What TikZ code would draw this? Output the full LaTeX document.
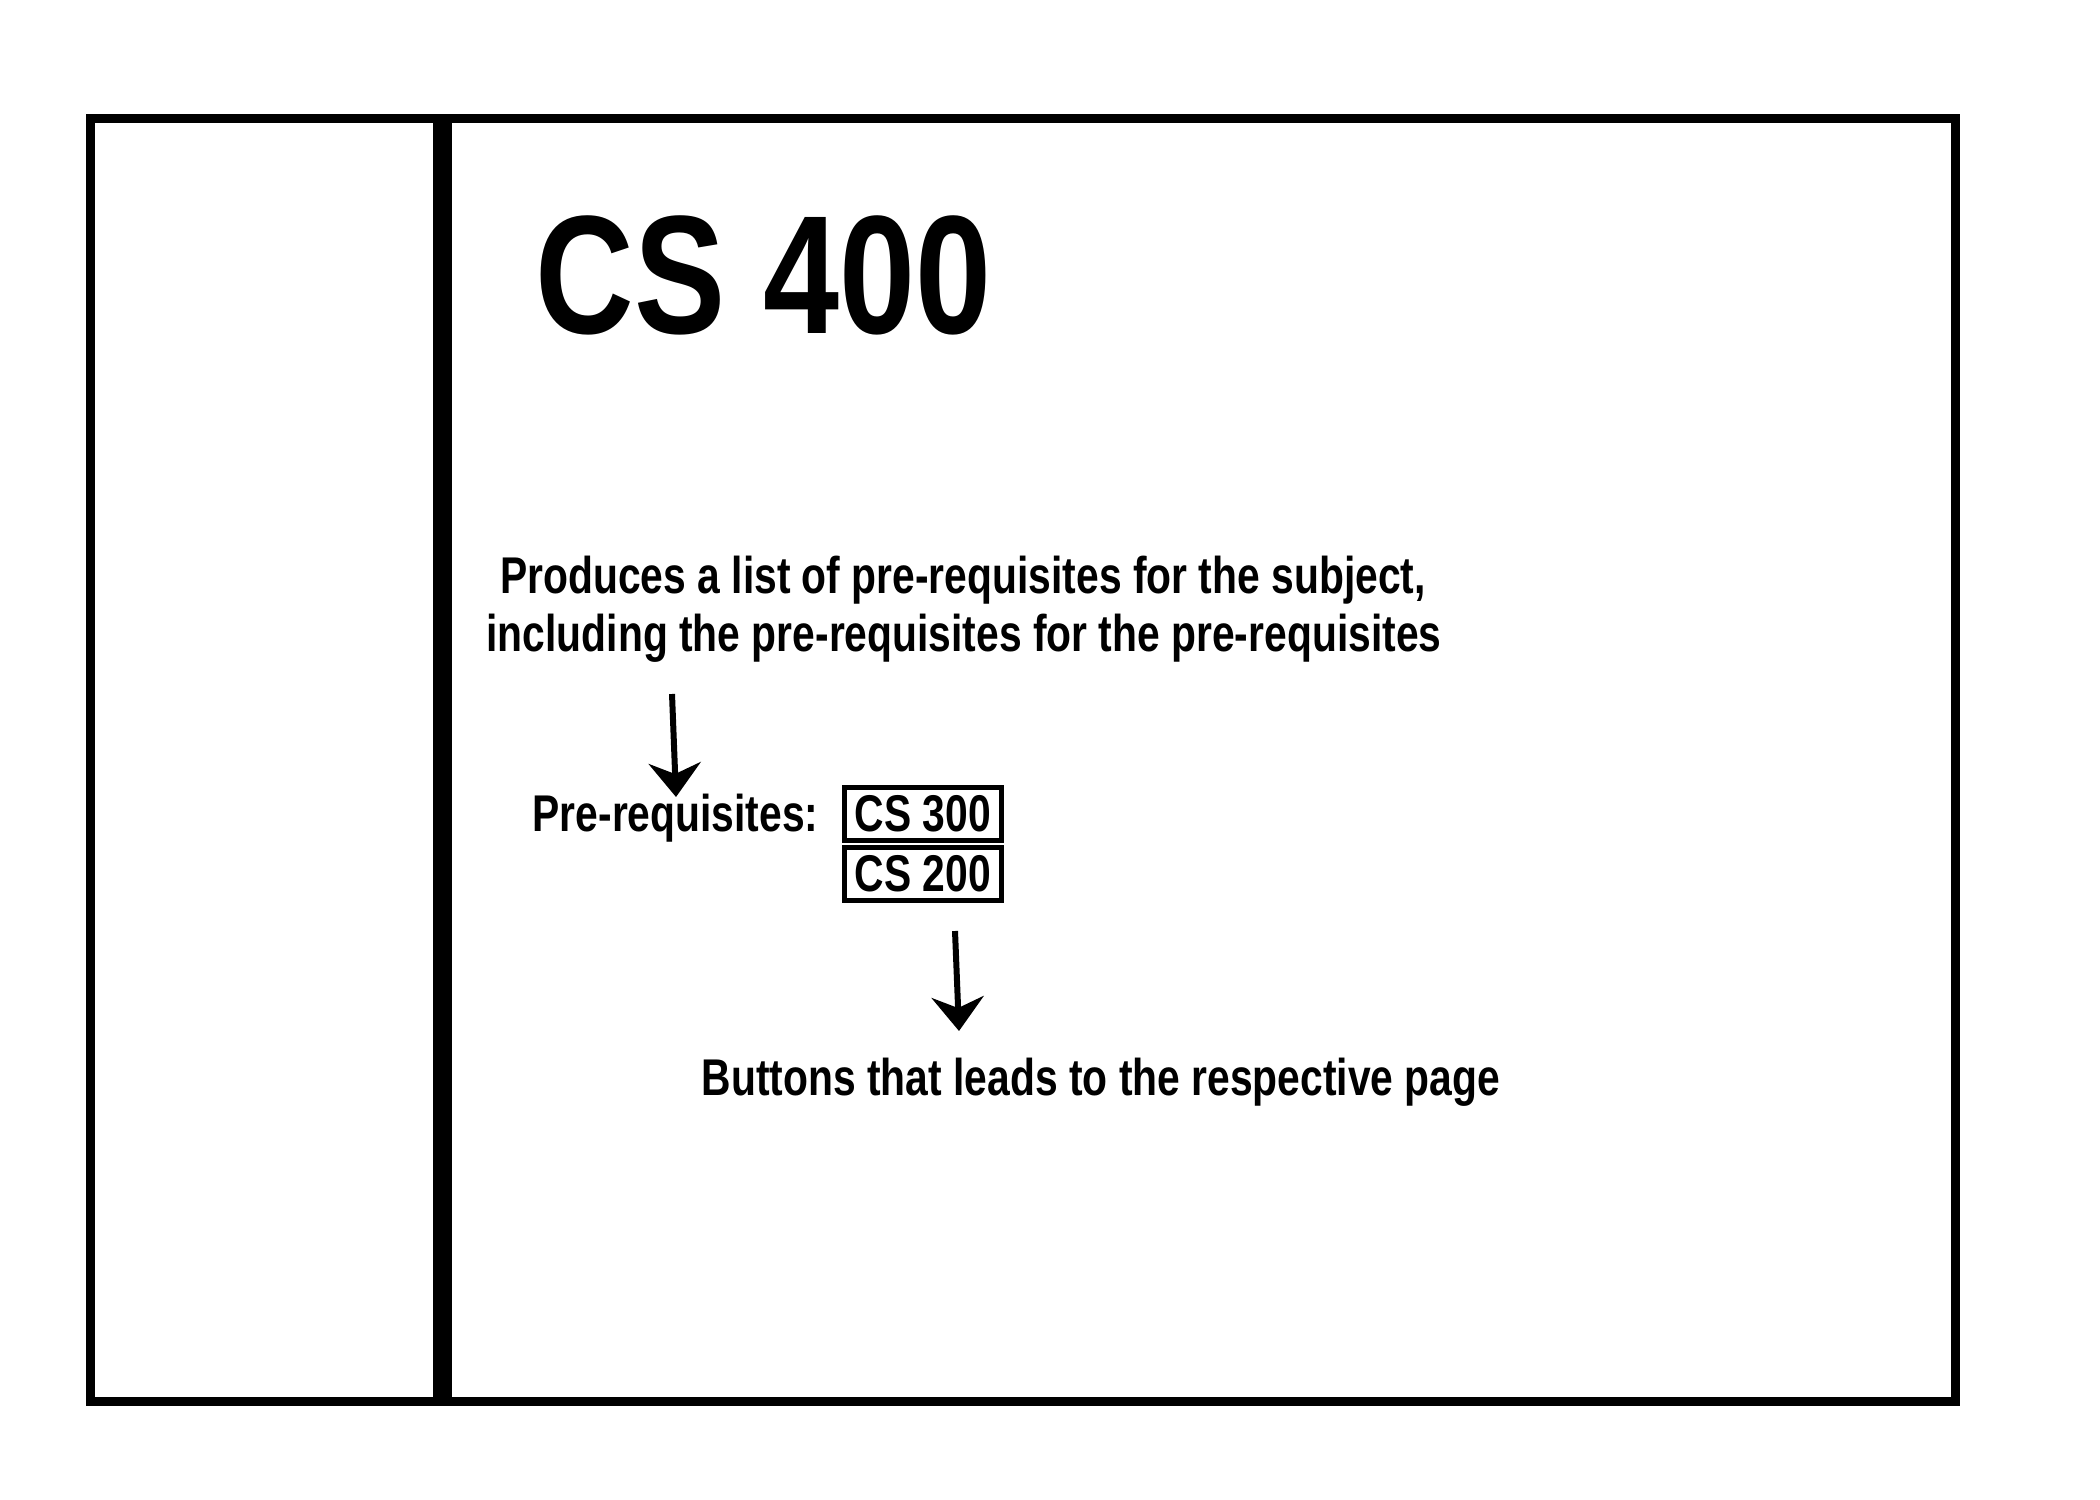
\documentclass[tikz,border=0pt]{standalone}
\usepackage{fontspec}
\newfontfamily\narrowsans[FakeStretch=0.79]{Liberation Sans}
\newfontfamily\headingsans[FakeStretch=0.81]{Liberation Sans}
\usetikzlibrary{arrows.meta}
\begin{document}
\begin{tikzpicture}[x=0.1mm,y=-0.1mm,
  frame/.style={line width=0.9mm},
  divider/.style={line width=1.9mm},
  label/.style={inner sep=0pt, font=\narrowsans\bfseries\fontsize{14.7}{17}\selectfont},
  heading/.style={inner sep=0pt, font=\headingsans\bfseries\fontsize{48}{56}\selectfont},
  button/.style={label, draw, line width=0.5mm, minimum width=15.7mm, minimum height=5.3mm},
  pointer/.style={line width=0.6mm, -{Stealth[length=3.4mm,width=5.2mm,inset=1.1mm]}}]
\useasboundingbox (0,0) rectangle (2100,1500);
\fill[white] (0,0) rectangle (2100,1500);
% page frame and side bar divider
\draw[frame] (90.5,118.5) rectangle (1955.5,1401.5);
\coordinate (divtop) at (442.5,123);
\coordinate (divbot) at (442.5,1406);
\draw[divider] (divtop) -- (divbot);
% course heading
\node[heading, anchor=base west] (course) at (535,333) {CS 400};
% description
\node[label, anchor=base] (desc1) at (963,593) {Produces a list of pre-requisites for the subject,};
\node[label, anchor=base] (desc2) at (964,651) {including the pre-requisites for the pre-requisites};
% pre-requisite buttons
\node[label, anchor=base west] (prq) at (532,831) {Pre-requisites:};
\node[button] (cs300) at (923,814) {CS 300};
\node[button] (cs200) at (923,874) {CS 200};
% explanation of the buttons
\node[label, anchor=base] (btn) at (1101,1095) {Buttons that leads to the respective page};
% pointers
\coordinate (p1s) at (672,694);
\coordinate (p1e) at (676,797);
\coordinate (p2s) at (955,931);
\coordinate (p2e) at (959,1031);
\draw[pointer] (p1s) -- (p1e);
\draw[pointer] (p2s) -- (p2e);
\end{tikzpicture}
\end{document}
